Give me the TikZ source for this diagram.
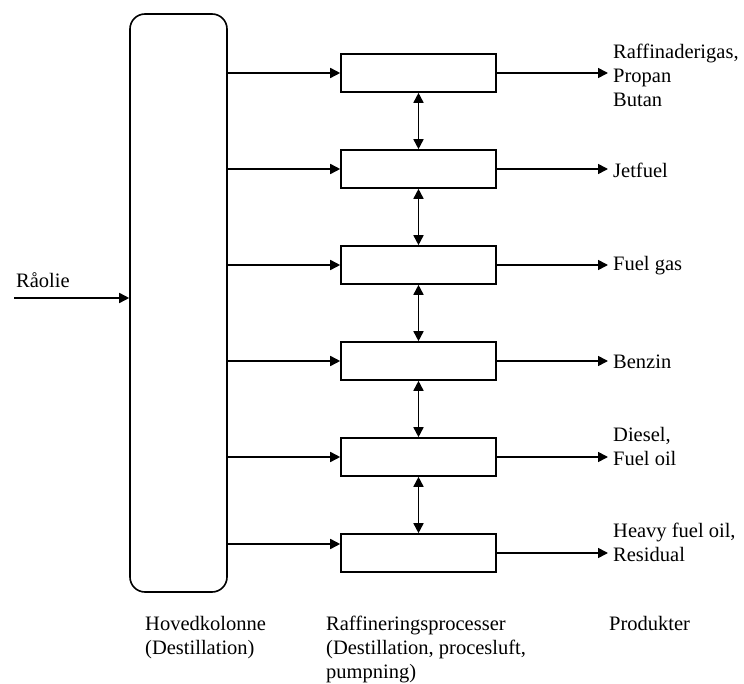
\documentclass[tikz,border=0pt]{standalone}
\usepackage{fontspec}
\setmainfont{Liberation Serif}
\usetikzlibrary{arrows.meta}

\tikzset{
  box/.style  = {draw, line width=1.6pt, minimum width=155pt, minimum height=38pt, inner sep=0pt},
  arr/.style  = {line width=1.6pt, -{Triangle[length=10pt,width=10pt]}},
  darr/.style = {line width=1.6pt, {Triangle[length=10pt,width=10pt]}-{Triangle[length=10pt,width=10pt]}},
  lbl/.style  = {inner sep=0pt, align=left, font=\fontsize{20.5}{24}\selectfont},
}

\begin{document}
\begin{tikzpicture}[x=1pt,y=-1pt]
        \useasboundingbox (0,0) rectangle (744,684);
        \node [draw, line width=1.6pt, rounded corners=15pt,
               minimum width=97pt, minimum height=578pt] (kolonne) at (178.5,303) {}; %main column
        \node [box] (p1) at (418.5,73)  {};                            %
        \node [box] (p2) at (418.5,169) {};                            %
        \node [box] (p3) at (418.5,265) {};                            %
        \node [box] (p4) at (418.5,361) {};                            %
        \node [box] (p5) at (418.5,457) {};                            %
        \node [box] (p6) at (418.5,553) {};                            %

        \coordinate (raa) at (14,298);                                 %feed
        \draw [arr] (raa) -- (raa -| kolonne.west);                    %
        \node [lbl, anchor=base west] (raolie) at (16,288) {Råolie};   %

        \draw [arr] (kolonne.east |- p1.west) -- (p1.west);            %
        \draw [arr] (kolonne.east |- p2.west) -- (p2.west);            %
        \draw [arr] (kolonne.east |- p3.west) -- (p3.west);            %
        \draw [arr] (kolonne.east |- p4.west) -- (p4.west);            %
        \draw [arr] (kolonne.east |- p5.west) -- (p5.west);            %
        \coordinate (ind6) at ([yshift=9pt]p6.west);                   %bottom draw-off sits higher
        \draw [arr] (kolonne.east |- ind6) -- (ind6);                  %

        \draw [darr] (p1.south) -- (p2.north);                         %
        \draw [darr] (p2.south) -- (p3.north);                         %
        \draw [darr] (p3.south) -- (p4.north);                         %
        \draw [darr] (p4.south) -- (p5.north);                         %
        \draw [darr] (p5.south) -- (p6.north);                         %

        \node [lbl, anchor=west] (prod1) at (613,75)  {Raffinaderigas,\\Propan\\Butan}; %
        \node [lbl, anchor=west] (prod2) at (613,170) {Jetfuel};       %
        \node [lbl, anchor=west] (prod3) at (613,266) {Fuel gas};      %
        \node [lbl, anchor=west] (prod4) at (613,362) {Benzin};        %
        \node [lbl, anchor=west] (prod5) at (613,446) {Diesel,\\Fuel oil}; %
        \node [lbl, anchor=west] (prod6) at (613,542) {Heavy fuel oil,\\Residual}; %

        \draw [arr, shorten >=5pt] (p1.east) -- (p1.east -| prod1.west); %
        \draw [arr, shorten >=5pt] (p2.east) -- (p2.east -| prod2.west); %
        \draw [arr, shorten >=5pt] (p3.east) -- (p3.east -| prod3.west); %
        \draw [arr, shorten >=5pt] (p4.east) -- (p4.east -| prod4.west); %
        \draw [arr, shorten >=5pt] (p5.east) -- (p5.east -| prod5.west); %
        \draw [arr, shorten >=5pt] (p6.east) -- (p6.east -| prod6.west); %

        \node [lbl, anchor=north west] (hoved)  at (145,616) {Hovedkolonne\\(Destillation)};        %
        \node [lbl, anchor=north west] (raffin) at (326,616) {Raffineringsprocesser\\(Destillation, procesluft,\\pumpning)}; %
        \node [lbl, anchor=north west] (produkt) at (609,616) {Produkter};                          %
\end{tikzpicture}
\end{document}
